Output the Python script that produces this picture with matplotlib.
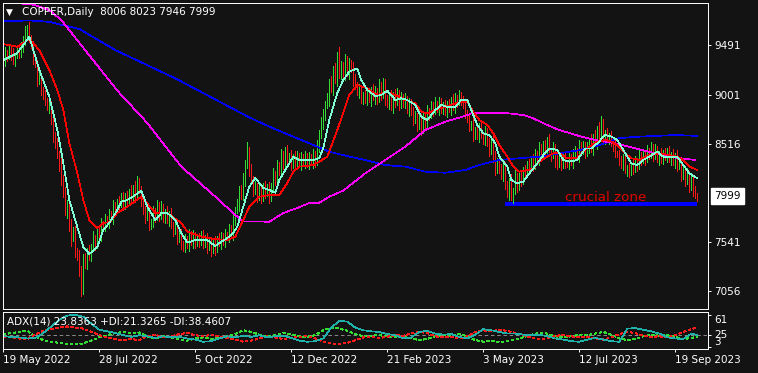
import numpy as np
import matplotlib
matplotlib.use("Agg")
import matplotlib.pyplot as plt

# daily closes, one per bar (open of a bar = previous close)
closes = [
    9300, 9420, 9380, 9450, 9400, 9330, 9380, 9440, 9400, 9470,
    9520, 9600, 9650, 9560, 9480, 9350, 9300, 9150, 9180, 9050,
    9000, 8950, 8880, 8900, 8750, 8600, 8520, 8400, 8300, 8150,
    8050, 7850, 7900, 7700, 7580, 7650, 7450, 7400, 7280, 7100,
    7380, 7330, 7450, 7400, 7500, 7580, 7520, 7650, 7600, 7720,
    7700, 7780, 7720, 7820, 7780, 7900, 7850, 7950, 7920, 8000,
    7900, 8000, 7950, 8050, 7980, 8080, 8000, 8150, 8050, 7950,
    7850, 7780, 7850, 7700, 7750, 7850, 7780, 7900, 7800, 7880,
    7780, 7850, 7760, 7820, 7700, 7650, 7720, 7580, 7620, 7520,
    7480, 7580, 7500, 7620, 7540, 7600, 7520, 7580, 7540, 7620,
    7520, 7580, 7480, 7550, 7460, 7540, 7480, 7580, 7520, 7600,
    7540, 7620, 7580, 7680, 7620, 7750, 7850, 7900, 8050, 8000,
    8150, 8300, 8450, 8250, 8150, 8050, 8100, 8000, 8080, 7980,
    8100, 8020, 8080, 7980, 8100, 8200, 8150, 8300, 8250, 8400,
    8300, 8450, 8350, 8400, 8300, 8380, 8320, 8400, 8300, 8380,
    8320, 8400, 8300, 8380, 8330, 8400, 8320, 8480, 8600, 8700,
    8800, 8900, 8950, 9100, 9050, 9250, 9150, 9380, 9200, 9280,
    9180, 9350, 9200, 9300, 9250, 9150, 9100, 9020, 9050, 8950,
    9000, 8950, 9030, 8950, 9050, 8980, 9050, 8950, 9100, 9000,
    9120, 8950, 8900, 9000, 8880, 9000, 8920, 9030, 8900, 8980,
    8920, 8970, 8850, 8930, 8820, 8750, 8800, 8700, 8780, 8650,
    8800, 8700, 8850, 8800, 8900, 8850, 8920, 8850, 8930, 8850,
    8900, 8830, 8920, 8850, 8950, 8880, 8980, 8920, 9000, 8950,
    8900, 8820, 8750, 8680, 8720, 8600, 8650, 8580, 8680, 8600,
    8550, 8650, 8520, 8450, 8550, 8400, 8250, 8350, 8280, 8200,
    8300, 8100, 8050, 8150, 7980, 8050, 8180, 8100, 8200, 8150,
    8250, 8200, 8320, 8280, 8350, 8300, 8420, 8350, 8480, 8420,
    8500, 8440, 8550, 8450, 8400, 8480, 8350, 8300, 8380, 8300,
    8380, 8320, 8300, 8380, 8330, 8400, 8450, 8380, 8500, 8450,
    8500, 8420, 8480, 8550, 8450, 8580, 8520, 8650, 8600, 8700,
    8550, 8620, 8560, 8600, 8520, 8500, 8420, 8400, 8350, 8300,
    8380, 8250, 8280, 8220, 8300, 8260, 8350, 8300, 8400, 8350,
    8420, 8350, 8450, 8400, 8480, 8400, 8450, 8350, 8420, 8350,
    8420, 8380, 8450, 8350, 8400, 8330, 8380, 8280, 8300, 8200,
    8250, 8150, 8220, 8100, 8150, 8050, 8006, 7999,
]
first_open = 9250
# wick lengths above / below the body, in tens of points, one digit per bar
up_wick = (
    "3524362435 6847352463 3524463547 5463745362 4536273546 3425364253 "
    "4352637425 3546253647 4253642535 3425364253 4352436254 3524364756 "
    "7583645364 3546374536 4352536425 3425364758 6475836495 4536475364 "
    "3524364253 4352536425 3524364253 4352436254 3524364253 4536253645 "
    "3425364253 4352637425 3524364253 4536253645 3425364253 4352637489 "
    "6352436254 3524364253 4352536425 3524364756 43526352"
)
down_wick = (
    "4253635243 5364253645 4536475364 6475836489 7564536425 3524364253 "
    "4352536425 3524364253 4536253645 3425364253 4352637425 3524364253 "
    "4536253645 3425364253 4352536425 3524364253 4536253645 3425364253 "
    "4352637425 3524364253 4536253645 3425364253 4352536425 3524364253 "
    "4536475364 5369253645 3425364253 4352637425 3524364253 4536253645 "
    "3425364253 5364253645 3524364253 4352536425 45364535"
)
last_bar = (8006, 8023, 7946, 7999)  # O H L C of the last bar

# moving averages: bar index, price
cyan_idx = [0, 7, 10, 13, 18, 23, 27, 30, 33, 37, 40, 43, 47, 50, 53, 57, 59, 62, 66, 69,
            72, 76, 79, 82, 86, 89, 92, 96, 99, 102, 106, 109, 112, 115, 117, 120, 123, 126, 128, 130,
            133, 136, 138, 142, 145, 148, 152, 155, 158, 160, 163, 167, 170, 173, 177, 179, 182, 186, 189, 192,
            196, 199, 202, 206, 209, 212, 216, 219, 222, 226, 229, 232, 234, 237, 240, 243, 246, 248, 252, 254,
            257, 260, 263, 267, 270, 273, 277, 280, 283, 287, 291, 294, 297, 301, 304, 307, 311, 314, 317, 320,
            323, 327, 330, 333, 337, 340, 343, 347]
cyan_ma = [9343, 9412, 9491, 9573, 9243, 8979, 8650, 8323, 7957, 7690, 7492, 7422, 7492, 7660, 7730, 7858, 7940, 7957, 8006, 8049,
           7891, 7759, 7828, 7828, 7759, 7630, 7535, 7560, 7560, 7560, 7501, 7544, 7580, 7630, 7693, 7891, 8089, 8174, 8125, 8075,
           8056, 8029, 8155, 8287, 8386, 8353, 8353, 8353, 8373, 8472, 8749, 9016, 9145, 9227, 9260, 9145, 9046, 8986, 8996, 9039,
           8947, 8964, 8947, 8897, 8781, 8749, 8848, 8897, 8880, 8880, 8947, 8947, 8848, 8699, 8617, 8600, 8518, 8386, 8287, 8155,
           8122, 8138, 8221, 8320, 8402, 8468, 8452, 8353, 8336, 8353, 8468, 8468, 8518, 8600, 8584, 8551, 8419, 8320, 8303, 8353,
           8386, 8435, 8386, 8386, 8386, 8303, 8221, 8171]

red_idx = [0, 7, 13, 18, 23, 27, 30, 33, 37, 40, 43, 47, 50, 53, 57, 62, 69, 76, 82, 89,
           92, 99, 106, 112, 116, 120, 123, 128, 133, 138, 142, 145, 148, 155, 158, 162, 167, 173, 177, 182,
           187, 192, 196, 201, 206, 209, 212, 216, 222, 229, 232, 235, 238, 242, 245, 248, 252, 255, 258, 262,
           265, 268, 272, 275, 278, 282, 287, 289, 293, 297, 301, 304, 307, 311, 314, 318, 323, 328, 333, 337,
           340, 343, 347]
red_ma = [9501, 9474, 9550, 9441, 9243, 9046, 8848, 8521, 8224, 7957, 7759, 7680, 7729, 7739, 7828, 7891, 7990, 7828, 7828, 7729,
          7644, 7594, 7570, 7560, 7594, 7759, 7891, 7990, 8006, 8006, 8125, 8237, 8287, 8303, 8336, 8386, 8650, 8996, 9095, 9062,
          8996, 9029, 8996, 8947, 8914, 8831, 8815, 8848, 8887, 8930, 8930, 8831, 8749, 8699, 8617, 8501, 8386, 8287, 8237, 8254,
          8270, 8336, 8386, 8419, 8419, 8370, 8370, 8419, 8485, 8534, 8551, 8534, 8501, 8419, 8370, 8353, 8402, 8419, 8402, 8386,
          8353, 8287, 8254]

magenta_idx = [0, 5, 15, 23, 29, 57, 72, 89, 106, 116, 120, 133, 140, 147, 153, 158, 163, 170, 181, 191,
               201, 211, 221, 231, 235, 250, 260, 265, 272, 278, 288, 296, 306, 316, 326, 336, 346]
magenta_ma = [9990, 9910, 9890, 9837, 9738, 9040, 8719, 8287, 7990, 7808, 7745, 7742, 7828, 7878, 7927, 7930, 7990, 8050, 8221, 8353,
              8485, 8650, 8732, 8790, 8821, 8821, 8798, 8765, 8699, 8650, 8590, 8551, 8518, 8468, 8419, 8376, 8353]

blue_idx = [0, 13, 23, 38, 56, 86, 116, 123, 133, 143, 153, 163, 173, 181, 191, 201, 211, 221, 231, 238,
            248, 258, 268, 278, 288, 298, 308, 318, 336, 347]
blue_ma = [9725, 9735, 9720, 9650, 9441, 9161, 8848, 8775, 8683, 8600, 8518, 8435, 8386, 8353, 8303, 8287, 8237, 8227, 8254, 8303,
           8353, 8370, 8386, 8419, 8450, 8500, 8570, 8584, 8600, 8592]

# ADX(14) panel, one value every 4 bars plus the last bar
adx_step = 4
adx = [22, 21, 20, 18, 19, 28, 40, 52, 60, 61, 58, 45, 34, 31, 28, 24, 21, 24, 22, 19,
       22, 20, 21, 18, 16, 12, 13, 18, 22, 20, 23, 21, 24, 20, 22, 23, 19, 14, 12, 13,
       18, 38, 50, 49, 38, 33, 31, 30, 26, 24, 18, 20, 30, 32, 27, 25, 26, 21, 18, 25,
       35, 33, 30, 27, 27, 25, 24, 25, 22, 18, 16, 13, 12, 16, 19, 16, 13, 12, 36, 37,
       34, 31, 27, 20, 18, 17, 27, 23.8363]
plus_di = [25, 28, 30, 32, 22, 15, 12, 10, 8, 7, 9, 14, 20, 24, 28, 30, 27, 29, 22, 18,
           22, 20, 16, 14, 18, 20, 17, 19, 22, 26, 33, 30, 25, 22, 24, 28, 26, 22, 21, 24,
           33, 38, 36, 32, 26, 22, 23, 24, 22, 20, 21, 18, 15, 17, 22, 24, 23, 26, 22, 15,
           12, 14, 11, 13, 16, 20, 25, 28, 27, 22, 20, 22, 25, 24, 27, 30, 25, 18, 15, 17,
           22, 25, 23, 24, 21, 17, 19, 21.3265]
minus_di = [22, 20, 18, 17, 25, 32, 35, 38, 40, 38, 36, 30, 24, 20, 17, 15, 17, 15, 22, 25,
            20, 22, 26, 28, 24, 22, 25, 22, 19, 16, 12, 14, 18, 22, 20, 17, 19, 21, 22, 18,
            12, 9, 8, 10, 15, 20, 21, 19, 21, 24, 23, 27, 30, 28, 22, 20, 21, 18, 22, 30,
            33, 31, 34, 32, 28, 24, 19, 17, 18, 23, 24, 22, 20, 21, 18, 16, 20, 26, 30, 28,
            23, 21, 22, 20, 24, 30, 35, 38.4607]
adx_level = 25
adx_ticks = [3, 25, 61]

price_ticks = [9491, 9001, 8516, 7541, 7056]
date_step = 48
date_labels = ["19 May 2022", "28 Jul 2022", "5 Oct 2022", "12 Dec 2022",
               "21 Feb 2023", "3 May 2023", "12 Jul 2023", "19 Sep 2023"]

zone_start, zone_end = 251, 347
zone_low, zone_high = 7898, 7941

BG = "#131313"
FG = "white"
LW = 0.7   # about one pixel at 100 dpi
MLW = 0.5  # indicator lines
plt.rcParams["font.family"] = ["DejaVu Sans"]
plt.rcParams["font.size"] = 7.5

# build OHLC
c = np.array(closes, dtype=float)
o = np.r_[first_open, c[:-1]]
up = np.array([int(d) for d in up_wick.replace(" ", "")]) * 10
dn = np.array([int(d) for d in down_wick.replace(" ", "")]) * 10
hi = np.maximum(o, c) + up
lo = np.minimum(o, c) - dn
o[-1], hi[-1], lo[-1], c[-1] = last_bar
x = np.arange(len(c))
bar_colors = np.where(c >= o, "#33DD33", "#FF1A1A")

fig = plt.figure(figsize=(7.58, 3.73), dpi=100, facecolor=BG)
ax = fig.add_axes([0.0033, 0.17078, 0.93113, 0.8225], facecolor=BG)
ax2 = fig.add_axes([0.0033, 0.06354, 0.93113, 0.1008], facecolor=BG)

ax.vlines(x, lo, hi, colors=bar_colors, linewidth=LW, antialiased=False)
ax.plot(blue_idx, blue_ma, color="#0000FF", lw=MLW, antialiased=False)
ax.plot(magenta_idx, magenta_ma, color="#FF00FF", lw=MLW, antialiased=False)
ax.plot(red_idx, red_ma, color="#FF0000", lw=MLW, antialiased=False)
ax.plot(cyan_idx, cyan_ma, color="#7FFFD4", lw=MLW, antialiased=False)

ax.fill_between([zone_start, zone_end], zone_low, zone_high, color="#0000FF", lw=0)
ax.text((zone_start + zone_end) / 2 + 2, zone_high + 4, "crucial zone",
        color="#E00000", fontsize=9.7, ha="center", va="baseline")

ax.set_xlim(-0.4, 352.5)
ax.set_ylim(6875, 9912)
ax.set_xticks([])
ax.yaxis.tick_right()
ax.set_yticks(price_ticks)
ax.set_yticklabels([str(p) for p in price_ticks])
ax.tick_params(axis="y", direction="out", length=2.2, width=LW, pad=2,
               colors=FG, labelsize=7.5)
for s in ax.spines.values():
    s.set_color(FG)
    s.set_linewidth(LW)

ax.annotate("\u25bc", xy=(0, 1), xycoords="axes fraction", xytext=(6.5, -9.5),
            textcoords="offset pixels", ha="center", va="center", color=FG, fontsize=6.5)
ax.annotate("COPPER,Daily  %d %d %d %d" % last_bar, xy=(0, 1), xycoords="axes fraction",
            xytext=(19.5, -9.5), textcoords="offset pixels", ha="left", va="center",
            color=FG, fontsize=7.5)
ax.annotate(str(last_bar[3]), xy=(1, last_bar[3]), xycoords=("axes fraction", "data"),
            xytext=(6, 0), textcoords="offset pixels", ha="left", va="center",
            color="black", fontsize=7.5,
            bbox=dict(boxstyle="square,pad=0.3", fc="white", ec="white"))

# ADX panel
xi = np.r_[np.arange(0, len(adx) - 1) * adx_step, len(c) - 1]
ax2.axhline(adx_level, color="#BBBBBB", lw=MLW, ls=(0, (5, 4)))
ax2.plot(xi, plus_di, color="#33DD33", lw=MLW, ls=(0, (4, 4)), antialiased=False)
ax2.plot(xi, minus_di, color="#FF1A1A", lw=MLW, ls=(0, (4, 4)), antialiased=False)
ax2.plot(xi, adx, color="#20B2AA", lw=MLW, antialiased=False)
ax2.set_xlim(-0.4, 352.5)
ax2.set_ylim(-1.8, 67)
ax2.yaxis.tick_right()
ax2.set_yticks(adx_ticks)
ax2.set_yticklabels([str(t) for t in adx_ticks])
for t, va in zip(ax2.yaxis.get_major_ticks(), ["bottom", "center", "top"]):
    t.label2.set_va(va)
ax2.set_xticks(np.arange(len(date_labels)) * date_step)
ax2.set_xticklabels(date_labels, ha="left")
ax2.tick_params(axis="both", direction="out", length=2.2, width=LW, pad=2,
                colors=FG, labelsize=7.5)
for s in ax2.spines.values():
    s.set_color(FG)
    s.set_linewidth(LW)
ax2.annotate("ADX(14) %.4f +DI:%.4f -DI:%.4f" % (adx[-1], plus_di[-1], minus_di[-1]),
             xy=(0, 1), xycoords="axes fraction", xytext=(4.5, -10),
             textcoords="offset pixels", ha="left", va="center", color=FG, fontsize=7.5)

fig.savefig("out.png", dpi=100, facecolor=BG)
